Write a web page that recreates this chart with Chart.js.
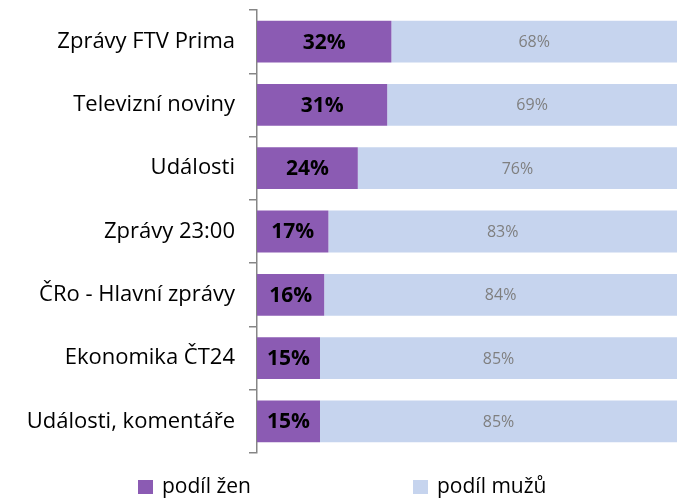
<!DOCTYPE html>
<html lang="cs">
<head>
    <meta charset="UTF-8">
    <title>Podíl žen a mužů</title>
    <style>
        html, body { margin: 0; padding: 0; background: #fff; }
        #wrap { width: 677px; height: 499px; position: relative; }
        #legend { position: absolute; left: 0; top: 472px; width: 677px; height: 27px; font-family: "Open Sans", sans-serif; font-size: 21px; color: #000; }
        #legend .item { position: absolute; top: 0; white-space: nowrap; line-height: 27px; }
        #legend .box { display: inline-block; width: 15px; height: 14px; margin-right: 9px; vertical-align: -1px; }
    </style>
</head>
<body>
    <div id="wrap">
        <canvas id="myChart"></canvas>
        <div id="legend"></div>
    </div>

<script src="https://cdn.jsdelivr.net/npm/chart.js"></script>
    <script>
        const categories = ['Zprávy FTV Prima', 'Televizní noviny', 'Události', 'Zprávy 23:00', 'ČRo - Hlavní zprávy', 'Ekonomika ČT24', 'Události, komentáře'];
        const women = [32, 31, 24, 17, 16, 15, 15];
        const men = [68, 69, 76, 83, 84, 85, 85];
        const seriesNames = ['podíl žen', 'podíl mužů'];
        const colors = ['#8b5bb3', '#c6d4ee'];

        const fontFam = '"Open Sans", sans-serif';

        // draws the % text inside each bar segment
        const barLabels = {
            id: 'barLabels',
            afterDatasetsDraw(chart) {
                const ctx = chart.ctx;
                chart.data.datasets.forEach((ds, di) => {
                    const meta = chart.getDatasetMeta(di);
                    meta.data.forEach((bar, i) => {
                        const x = (bar.x + bar.base) / 2;
                        ctx.save();
                        ctx.textAlign = 'center';
                        ctx.textBaseline = 'middle';
                        if (di == 0) {
                            ctx.font = 'bold 21px ' + fontFam;
                            ctx.fillStyle = '#000';
                        } else {
                            ctx.font = '16px ' + fontFam;
                            ctx.fillStyle = '#7f7f7f';
                        }
                        ctx.fillText(ds.data[i] + '%', x, bar.y + 1);
                        ctx.restore();
                    });
                });
            }
        };

        const chart = new Chart(document.getElementById('myChart'), {
            type: 'bar',
            data: {
                labels: categories,
                datasets: [{
                    label: seriesNames[0],
                    data: women,
                    backgroundColor: colors[0],
                    categoryPercentage: 1,
                    barPercentage: 0.66
                }, {
                    label: seriesNames[1],
                    data: men,
                    backgroundColor: colors[1],
                    categoryPercentage: 1,
                    barPercentage: 0.66
                }]
            },
            plugins: [barLabels],
            options: {
                indexAxis: 'y',
                responsive: true,
                maintainAspectRatio: false,
                animation: false,
                layout: { padding: { top: 10, right: 0, left: 0, bottom: 46 } },
                scales: {
                    x: {
                        stacked: true,
                        min: 0,
                        max: 100,
                        display: false
                    },
                    y: {
                        stacked: true,
                        afterFit(scale) {
                            scale.width = 257;
                            scale.paddingTop = 0;
                            scale.paddingBottom = 0;
                        },
                        border: { display: true, color: '#868686', width: 1.5 },
                        grid: {
                            drawOnChartArea: false,
                            drawTicks: true,
                            tickLength: 8,
                            color: '#868686',
                            lineWidth: 1.5
                        },
                        ticks: {
                            color: '#000',
                            padding: 14,
                            font: { family: fontFam, size: 22 }
                        }
                    }
                },
                plugins: {
                    legend: { display: false },
                    tooltip: { enabled: false }
                }
            }
        });

        // html legend, since the gap between items is wider than chart.js allows
        const legendX = [138, 413];
        const lg = document.getElementById('legend');
        chart.data.datasets.forEach((ds, i) => {
            const item = document.createElement('div');
            item.className = 'item';
            item.style.left = legendX[i] + 'px';
            item.innerHTML = '<span class="box" style="background:' + ds.backgroundColor + '"></span>' + ds.label;
            lg.appendChild(item);
        });
    </script>
</body>
</html>
